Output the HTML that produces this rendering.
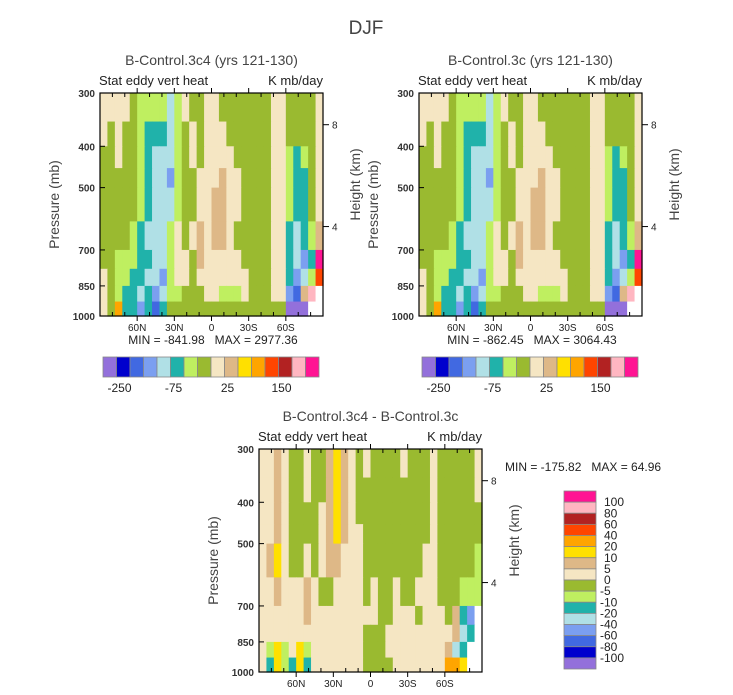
<!DOCTYPE html>
<html><head><meta charset="utf-8"><style>
html,body{margin:0;padding:0;background:#fff;}
svg{display:block;font-family:"Liberation Sans",sans-serif;}
.pre{white-space:pre;}
</style></head><body>
<svg id="c" width="733" height="695" viewBox="0 0 733 695" xmlns="http://www.w3.org/2000/svg">
<text x="366" y="34" font-size="19" text-anchor="middle" fill="#444">DJF</text>
</svg>
<script>
const palette=["#9370db","#0000cd","#4169e1","#7b9ff0","#b0e0e6","#20b2aa","#bfef60","#9aba30","#f5e6c3","#deb887","#ffe000","#ffa500","#ff4500","#b22222","#ffb6c1","#ff1493"];
const classChars="abcdefghijklmnop";
const pLevels=[300,350,400,450,500,600,700,775,850,925,1000];
const latStep=6;
const pTicks=[300,400,500,700,850,1000];
const latTicks=[60,30,0,-30,-60];
const latTickLabels=["60N","30N","0","30S","60S"];
const heightTicks=[8,4];
const heightTickP=[356,617];
const topBarLabels=["-250","-75","25","150"];
const topBarLabelIdx=[1,5,9,13];
const diffBarLabels=["100","80","60","40","20","10","5","0","-5","-10","-20","-40","-60","-80","-100"];
const fieldA=[
"iiiihggggegihhiihhhhhhhiihhhhi",
"ihihhgfffeghihiiihhhhhhiihhhhi",
"hhihhgfeeeghihiiiihhhhhiigfghi",
"hhhhhgfeedghhiiijiihhhhiigffhi",
"hhhhhgfeeeghhiijjiihhhhiigffhi",
"hhhhgfeeegihijijjihhhhhiifefgj",
"hhgggffeegiihjiiiiihhhhiifedfp",
"ihggffeedgiihiiiiiiihhhiifdegm",
"ihgffefdegghhhiigggihhhiidcjow",
"ihlffdfcfhhhhhhhhhhhhhhhhaaaww"];
const fieldDiff=[
"iijihhihhjkjihihhhhihhhihhhhhi",
"iijihhihhjkjihhhhhhhhhhihhhhhi",
"iijihhhhijkjihhhhhhhhhhihhhhhh",
"iijihhhhijkjiihhhhhhhhhihhhhhh",
"ijkihhihijjiiihhhhhhhhiihhhhhg",
"iijiiijihhiiiihihhihhiiihhhggg",
"iiiiiijiiiiiiiiihhiiihiiihjfdw",
"iiiiiiiiiiiiiihhhiiiiiiiiijefw",
"igkgikgiiiiiiihhhiiiiiiiijefww",
"ifkgfkfiiiiiiihhhhiiiiiiillkww"];
const NS="http://www.w3.org/2000/svg";
const svg=document.getElementById("c");
function mk(tag,attrs,parent){const e=document.createElementNS(NS,tag);for(const k in attrs)e.setAttribute(k,attrs[k]);(parent||svg).appendChild(e);return e;}
function txt(s,attrs,parent){const e=mk("text",attrs,parent);e.textContent=s;return e;}
const W=223,H=223;
function panel(x0,y0,field,title,name){
  const g=mk("g",{});
  
  
  const lnTop=Math.log(300),lnBot=Math.log(1000);
  const yS=p=>y0+(Math.log(p)-lnTop)/(lnBot-lnTop)*H;
  const xS=lat=>x0+(90-lat)/180*W;
  mk("rect",{x:x0,y:y0,width:W,height:H,fill:palette[8]},g);
  field.forEach((row,r)=>{
    for(let c=0;c<row.length;c++){
      const ch=row[c];
      const la=90-c*latStep, lb=la-latStep;
      const x=xS(la), w=xS(lb)-x+0.6;
      const y=yS(pLevels[r]), h=yS(pLevels[r+1])-y+0.6;
      const fill=ch==="w"?"#ffffff":palette[classChars.indexOf(ch)];
      const cell=mk("rect",{x:x.toFixed(2),y:y.toFixed(2),width:w.toFixed(2),height:h.toFixed(2),fill:fill},g);
      
      
    }
  });
  const fr=mk("rect",{x:x0,y:y0,width:W,height:H,fill:"none",stroke:"#000","stroke-width":1.2},g);
  
  
  for(let lat=80;lat>=-80;lat-=10){
    const x=xS(lat),major=lat%30===0;
    mk("line",{x1:x,y1:y0,x2:x,y2:y0+(major?-5:4),stroke:"#000"},g);
    mk("line",{x1:x,y1:y0+H,x2:x,y2:y0+H+(major?5:-4),stroke:"#000"},g);
  }
  latTicks.forEach((lat,i)=>{
    const t=txt(latTickLabels[i],{x:xS(lat),y:y0+H+15,"font-size":10,"text-anchor":"middle",fill:"#222"},g);
    
    
  });
  pTicks.forEach(p=>{
    const y=yS(p);
    mk("line",{x1:x0,y1:y,x2:x0+5,y2:y,stroke:"#000"},g);
    const t=txt(String(p),{x:x0-5,y:y+4,"font-size":10,"font-weight":"bold","text-anchor":"end",fill:"#333"},g);
    
    
  });
  heightTicks.forEach((h,i)=>{
    const y=yS(heightTickP[i]);
    mk("line",{x1:x0+W,y1:y,x2:x0+W+6,y2:y,stroke:"#000"},g);
    const t=txt(String(h),{x:x0+W+9,y:y+4,"font-size":10,fill:"#222"},g);
    
    
  });
  const yl=txt("Pressure (mb)",{x:0,y:0,"font-size":14,"text-anchor":"middle",fill:"#444",transform:`translate(${x0-41},${y0+H/2}) rotate(-90)`},g);
  
  
  const hl=txt("Height (km)",{x:0,y:0,"font-size":14,"text-anchor":"middle",fill:"#444",transform:`translate(${x0+W+37},${y0+H/2-20}) rotate(-90)`},g);
  
  
  const tt=txt(title,{x:x0+W/2,y:y0-28,"font-size":14,"text-anchor":"middle",fill:"#444"},g);
  
  
  const s1=txt("Stat eddy vert heat",{x:x0-1,y:y0-8,"font-size":13,fill:"#222"},g);
  
  
  const s2=txt("K mb/day",{x:x0+W,y:y0-8,"font-size":13,"text-anchor":"end",fill:"#222"},g);
  
  
  return g;
}
function hbar(x0,y0,mm){
  const bw=13.5;
  const g=mk("g",{});
  
  
  palette.forEach((col,i)=>{
    const r=mk("rect",{x:x0+i*bw,y:y0,width:bw,height:20,fill:col,stroke:"#888","stroke-width":0.8},g);
    
    
  });
  topBarLabels.forEach((s,i)=>{
    const t=txt(s,{x:x0+topBarLabelIdx[i]*bw+3,y:y0+35,"font-size":12,"text-anchor":"middle",fill:"#222"},g);
    
    
  });
  const m=txt(mm,{x:x0+110,y:y0-13,"font-size":12,"text-anchor":"middle",fill:"#222","class":"pre"},g);
  
  
}
panel(100,93,fieldA,"B-Control.3c4 (yrs 121-130)","panel-3c4");
panel(419,93,fieldA,"B-Control.3c (yrs 121-130)","panel-3c");
panel(259,449,fieldDiff,"B-Control.3c4 - B-Control.3c","panel-diff");
hbar(103,357,"MIN = -841.98   MAX = 2977.36");
hbar(422,357,"MIN = -862.45   MAX = 3064.43");
const mm=txt("MIN = -175.82   MAX = 64.96",{x:505,y:471,"font-size":12,fill:"#222","class":"pre"});


const vg=mk("g",{});


const bh=178/16;
for(let i=0;i<16;i++){
  const r=mk("rect",{x:564,y:491+i*bh,width:32,height:bh,fill:palette[15-i],stroke:"#888","stroke-width":0.8},vg);
  
  
}
diffBarLabels.forEach((s,i)=>{
  const t=txt(s,{x:600+(s[0]==="-"?0:4),y:491+(i+1)*bh+4,"font-size":12,fill:"#222"},vg);
  
  
});
</script>
</body></html>
